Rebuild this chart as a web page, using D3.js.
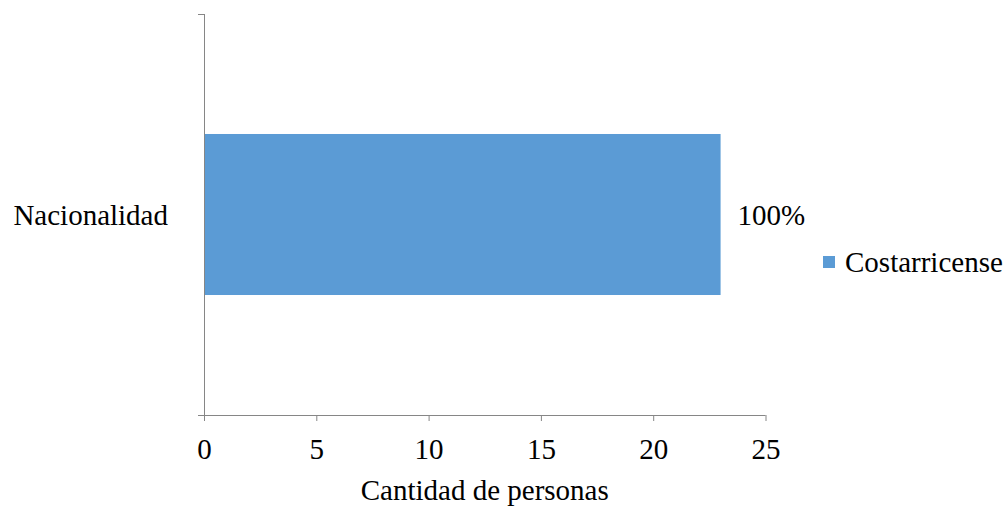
<!DOCTYPE html>
<html lang="es">
<head>
    <meta charset="UTF-8">
    <title>Nacionalidad</title>
    <script src="https://d3js.org/d3.v7.min.js"></script>
    <style>
        body { margin: 0; background: #fff; }
        svg text { font-family: "Liberation Serif", "Times New Roman", serif !important; fill: #000; }
    </style>
</head>
<body>
    <script>
        const categories = ['Nacionalidad'];
        const values = [23];
        const valueLabels = ['100%'];
        const seriesName = 'Costarricense';
        const xTicks = [0, 5, 10, 15, 20, 25];

        const width = 1007, height = 508;
        const plot = { left: 204, right: 765.5, top: 14, bottom: 415 };
        const axisColor = '#868686';
        const barColor = '#5B9BD5';
        const fontSize = 29;
        const serif = '"Liberation Serif", "Times New Roman", serif';

        const svg = d3.select("body").append("svg")
            .attr("width", width)
            .attr("height", height);

        const x = d3.scaleLinear()
            .domain([0, 25])
            .range([plot.left, plot.right]);

        const y = d3.scaleBand()
            .domain(categories)
            .range([plot.top, plot.bottom])
            .paddingInner(0.427)
            .paddingOuter(0.427);

        // bars
        svg.selectAll("rect.bar")
            .data(values)
            .enter()
            .append("rect")
            .attr("class", "bar")
            .attr("x", x(0))
            .attr("y", (d, i) => y(categories[i]))
            .attr("width", d => x(d) - x(0))
            .attr("height", y.bandwidth())
            .style("fill", barColor);

        // x axis
        const xAxis = svg.append("g")
            .attr("transform", `translate(0,${plot.bottom})`)
            .call(d3.axisBottom(x).tickValues(xTicks).tickSize(6).tickPadding(17));
        xAxis.select(".domain").remove();
        xAxis.append("line")
            .attr("x1", plot.left - 6).attr("x2", plot.right)
            .attr("y1", 0.5).attr("y2", 0.5)
            .style("stroke", axisColor);
        xAxis.selectAll(".tick line").style("stroke", axisColor);
        xAxis.selectAll(".tick text")
            .attr("font-size", fontSize)
            .attr("font-family", serif)
            .attr("fill", "#000");

        // y axis (category)
        const yAxis = svg.append("g");
        yAxis.append("line")
            .attr("x1", plot.left + 0.5).attr("x2", plot.left + 0.5)
            .attr("y1", plot.top).attr("y2", plot.bottom + 6)
            .style("stroke", axisColor);
        yAxis.selectAll("line.edge")
            .data([plot.top, plot.bottom])
            .enter()
            .append("line")
            .attr("class", "edge")
            .attr("x1", plot.left - 6).attr("x2", plot.left)
            .attr("y1", d => d + 0.5).attr("y2", d => d + 0.5)
            .style("stroke", axisColor);

        svg.selectAll("text.cat")
            .data(categories)
            .enter()
            .append("text")
            .attr("class", "cat")
            .attr("x", 168)
            .attr("y", d => y(d) + y.bandwidth() / 2)
            .attr("dy", "0.35em")
            .attr("text-anchor", "end")
            .attr("font-family", serif)
            .attr("font-size", fontSize)
            .text(d => d);

        // data labels
        svg.selectAll("text.val")
            .data(values)
            .enter()
            .append("text")
            .attr("class", "val")
            .attr("x", d => x(d) + 17)
            .attr("y", (d, i) => y(categories[i]) + y.bandwidth() / 2)
            .attr("dy", "0.35em")
            .attr("font-family", serif)
            .attr("font-size", fontSize)
            .text((d, i) => valueLabels[i]);

        // axis title
        svg.append("text")
            .attr("x", (plot.left + plot.right) / 2)
            .attr("y", 500)
            .attr("text-anchor", "middle")
            .attr("font-family", serif)
            .attr("font-size", fontSize)
            .text("Cantidad de personas");

        // legend
        const legend = svg.append("g").attr("transform", "translate(823,256)");
        legend.append("rect")
            .attr("width", 12).attr("height", 12)
            .style("fill", barColor);
        legend.append("text")
            .attr("x", 22)
            .attr("y", 6)
            .attr("dy", "0.35em")
            .attr("font-family", serif)
            .attr("font-size", fontSize)
            .text(seriesName);
    </script>
</body>
</html>
